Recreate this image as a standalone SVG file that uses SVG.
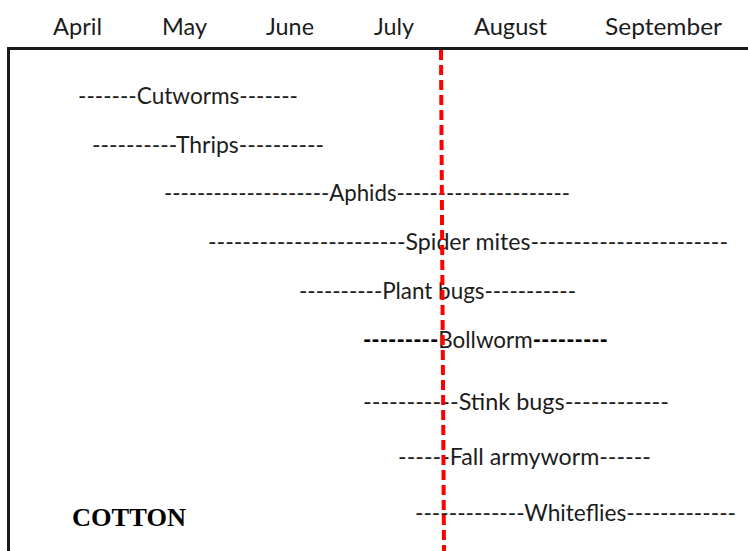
<svg xmlns="http://www.w3.org/2000/svg" width="748" height="551" viewBox="0 0 748 551">
  <style>
    .m { font-family: Lato, "Open Sans", "Liberation Sans", sans-serif; font-size: 24px; fill: #1c1c1c; }
    .r { font-family: Lato, "Open Sans", "Liberation Sans", sans-serif; font-size: 24px; fill: #1c1c1c; }
    .b { font-weight: bold; fill: #000; }
    .crop { font-family: "Liberation Serif", "Times New Roman", serif; font-size: 26px; font-weight: bold; fill: #000; }
  </style>
  <rect width="748" height="551" fill="#fff"/>
  <g id="frame">
    <rect x="8.5" y="48.5" width="760" height="520" fill="none" stroke="#1a1a1a" stroke-width="3"/>
  </g>
  <g id="months">
    <text class="m" x="53" y="35" textLength="49" lengthAdjust="spacingAndGlyphs">April</text>
    <text class="m" x="162" y="35" textLength="45" lengthAdjust="spacingAndGlyphs">May</text>
    <text class="m" x="266" y="35" textLength="48" lengthAdjust="spacingAndGlyphs">June</text>
    <text class="m" x="374" y="35" textLength="40" lengthAdjust="spacingAndGlyphs">July</text>
    <text class="m" x="474" y="35" textLength="73" lengthAdjust="spacingAndGlyphs">August</text>
    <text class="m" x="605" y="35" textLength="117" lengthAdjust="spacingAndGlyphs">September</text>
  </g>
  <g id="cutworms"><text class="r" x="78" y="104" textLength="220" lengthAdjust="spacingAndGlyphs">-------Cutworms-------</text></g>
  <g id="thrips"><text class="r" x="92" y="153" textLength="232" lengthAdjust="spacingAndGlyphs">----------Thrips----------</text></g>
  <g id="aphids"><text class="r" x="164" y="201" textLength="406" lengthAdjust="spacingAndGlyphs">--------------------Aphids---------------------</text></g>
  <g id="spider-mites"><text class="r" x="208" y="250" textLength="520" lengthAdjust="spacingAndGlyphs">-----------------------Spider mites-----------------------</text></g>
  <g id="plant-bugs"><text class="r" x="299" y="299" textLength="277" lengthAdjust="spacingAndGlyphs">----------Plant bugs-----------</text></g>
  <g id="bollworm"><text class="r" x="363" y="348" textLength="245" lengthAdjust="spacingAndGlyphs"><tspan class="b">---------</tspan>Bollworm<tspan class="b">---------</tspan></text></g>
  <g id="stink-bugs"><text class="r" x="363" y="410" textLength="306" lengthAdjust="spacingAndGlyphs">-----------Stink bugs------------</text></g>
  <g id="fall-armyworm"><text class="r" x="398" y="465" textLength="253" lengthAdjust="spacingAndGlyphs">------Fall armyworm------</text></g>
  <g id="whiteflies"><text class="r" x="415" y="521" textLength="321" lengthAdjust="spacingAndGlyphs">-------------Whiteflies-------------</text></g>
  <g id="label"><text class="crop" x="72" y="526" textLength="114" lengthAdjust="spacingAndGlyphs">COTTON</text></g>
  <g id="connectors">
    <line x1="441" y1="50" x2="444" y2="551" stroke="#ff0000" stroke-width="4" stroke-dasharray="10 5"/>
  </g>
</svg>
